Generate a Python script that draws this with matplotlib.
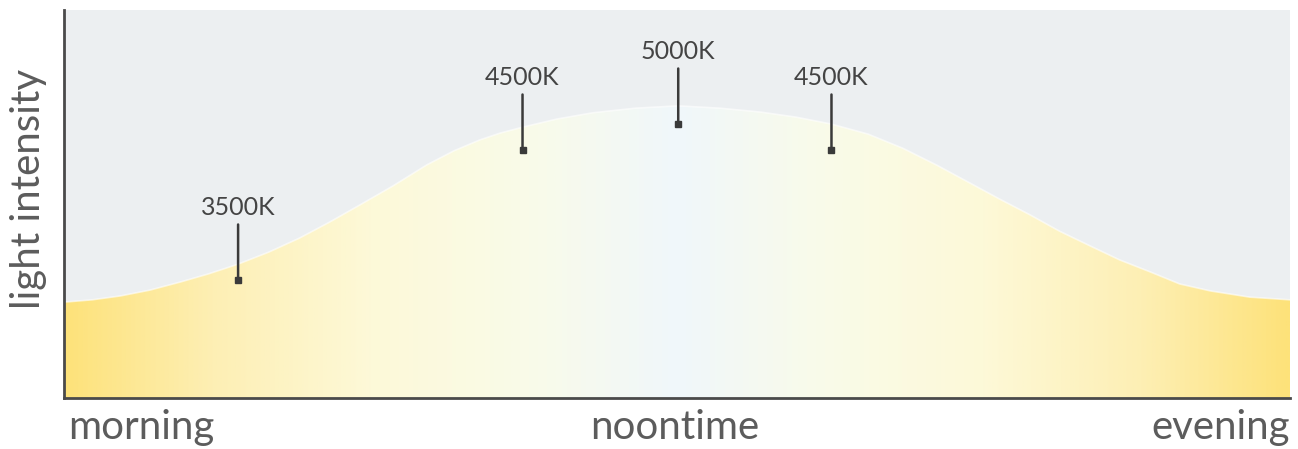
import numpy as np
import matplotlib
matplotlib.use('Agg')
import matplotlib.pyplot as plt
from matplotlib.colors import LinearSegmentedColormap

# Curva de intensidad de luz a lo largo del día (x: % del día, y: % de intensidad)
day_pos = [0.0, 2.3, 4.6, 7.0, 9.5, 11.8, 14.2, 16.7, 19.2, 21.7, 24.1, 26.8,
           29.6, 31.8, 33.9, 35.6, 37.4, 40.2, 43.1, 46.6, 50.1, 53.5, 56.8,
           59.7, 62.6, 65.6, 68.4, 71.2, 73.9, 76.3, 78.8, 81.2, 83.7, 86.1,
           88.6, 91.0, 93.5, 96.7, 100.0]
intensity = [24.7, 25.3, 26.3, 27.8, 29.9, 32.0, 34.5, 37.6, 41.2, 45.4, 49.7,
             54.6, 60.1, 63.7, 66.5, 68.3, 69.8, 71.9, 73.5, 74.7, 75.3, 74.7,
             73.7, 72.4, 70.6, 68.0, 64.4, 60.0, 55.4, 51.3, 47.2, 43.0, 39.2,
             35.6, 32.5, 29.4, 27.6, 26.0, 25.3]

# Marcadores de temperatura de color
marker_x = [14.2, 37.4, 50.1, 62.6]
marker_y = [30.4, 63.9, 70.6, 63.9]
marker_labels = ['3500K', '4500K', '5000K', '4500K']

time_labels = ['morning', 'noontime', 'evening']

plt.rcParams['font.family'] = ['Lato', 'DejaVu Sans']

fig = plt.figure(figsize=(12.98, 4.49), dpi=100)
ax = fig.add_axes([64 / 1298, 51 / 449, 1226 / 1298, 388 / 449])
ax.set_facecolor('#eceff1')
ax.set_xlim(0, 100)
ax.set_ylim(0, 100)

# Área bajo la curva con degradado horizontal
poly = ax.fill_between(day_pos, intensity, 0, facecolor='none', edgecolor='none')
cmap = LinearSegmentedColormap.from_list('daylight', [
    (0.0, '#fde27a'), (0.12, '#fdefb4'), (0.25, '#fdf9d8'), (0.38, '#f9fbe9'),
    (0.5, '#f0f7fb'), (0.62, '#f9fbe9'), (0.75, '#fdf9d8'), (0.88, '#fdefb4'),
    (1.0, '#fde27a')])
grad = np.linspace(0, 1, 512).reshape(1, -1)
img = ax.imshow(grad, cmap=cmap, aspect='auto', extent=[0, 100, 0, 100],
                origin='lower', zorder=1)
img.set_clip_path(poly.get_paths()[0], transform=ax.transData)
ax.plot(day_pos, intensity, color='white', lw=1.2, alpha=0.6, zorder=2)

# Marcadores con su etiqueta
for x, y, lab in zip(marker_x, marker_y, marker_labels):
    ax.plot([x], [y], marker='s', ms=5, color='#3a3a3a', zorder=4)
    ax.annotate('', xy=(x, y), xytext=(0, 40), textcoords='offset points',
                arrowprops=dict(arrowstyle='-', color='#3a3a3a', lw=1.8,
                                shrinkA=0, shrinkB=0), zorder=3)
    ax.annotate(lab, xy=(x, y), xytext=(0, 52), textcoords='offset points',
                ha='center', va='center', fontsize=18, color='#444444', zorder=4)

for s in ['top', 'right']:
    ax.spines[s].set_visible(False)
for s in ['left', 'bottom']:
    ax.spines[s].set_color('#4a4a4a')
    ax.spines[s].set_linewidth(2)
    ax.spines[s].set_zorder(5)
ax.set_xticks([])
ax.set_yticks([])

lab_style = dict(transform=ax.transAxes, va='center', fontsize=29, color='#5c5c5c')
ax.text(0.003, -0.075, time_labels[0], ha='left', **lab_style)
ax.text(0.498, -0.075, time_labels[1], ha='center', **lab_style)
ax.text(1.0, -0.075, time_labels[2], ha='right', **lab_style)
ax.text(-0.029, 0.54, 'light intensity', transform=ax.transAxes, rotation=90,
        ha='center', va='center', fontsize=29, color='#5c5c5c')

fig.savefig('out.png', dpi=100, facecolor='white')
